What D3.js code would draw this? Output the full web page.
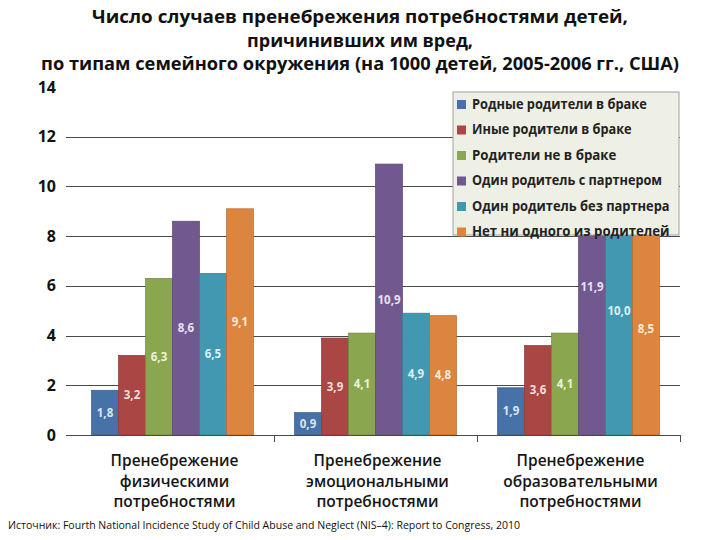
<!DOCTYPE html>
<html><head><meta charset="utf-8">
<script src="https://cdn.jsdelivr.net/npm/d3@7/dist/d3.min.js"></script>
<style>body{margin:0;background:#fff}svg{display:block}text{font-family:"Open Sans","Noto Sans",sans-serif}</style>
</head><body><div id="chart"></div>
<script>
const titleLines = ["Число случаев пренебрежения потребностями детей,", "причинивших им вред,", "по типам семейного окружения (на 1000 детей, 2005-2006 гг., США)"];
const categories = ["physical", "emotional", "educational"];
const categoryLabels = [["Пренебрежение","физическими","потребностями"],["Пренебрежение","эмоциональными","потребностями"],["Пренебрежение","образовательными","потребностями"]];
const seriesNames = ["Родные родители в браке","Иные родители в браке","Родители не в браке","Один родитель с партнером","Один родитель без партнера","Нет ни одного из родителей"];
const seriesColors = ["#4672a8","#aa4644","#8aa64f","#71598f","#4298b0","#db853e"];
const labelColors = ["#dce6f2","#f4dedd","#edf3d9","#e8e0f0","#dbf0f6","#fde9d9"];
const values = [
  [1.8, 3.2, 6.3, 8.6, 6.5, 9.1],
  [0.9, 3.9, 4.1, 10.9, 4.9, 4.8],
  [1.9, 3.6, 4.1, 11.9, 10.0, 8.5]
];
const yTicks = [0, 2, 4, 6, 8, 10, 12, 14];
const sourceText = "Источник: Fourth National Incidence Study of Child Abuse and Neglect (NIS–4): Report to Congress, 2010";

const W = 720, H = 540;
const svg = d3.select("#chart").append("svg").attr("width", W).attr("height", H);

const y = d3.scaleLinear().domain([0, 14]).range([435, 87]);
const x0 = d3.scaleBand().domain(categories).range([71, 680]).paddingInner(0).paddingOuter(0);
const x1 = d3.scaleBand().domain(d3.range(seriesNames.length)).range([0, x0.bandwidth()]).paddingInner(0).paddingOuter(0.76);

// title
const titleY = [23, 47, 70];
const titleW = [536, 226, 638];
svg.append("g").selectAll("text").data(titleLines).join("text")
  .attr("x", 360).attr("y", (d, i) => titleY[i]).attr("text-anchor", "middle")
  .attr("font-size", 18).attr("font-weight", "bold").attr("fill", "#111")
  .attr("textLength", (d, i) => titleW[i]).attr("lengthAdjust", "spacingAndGlyphs")
  .text(d => d);

// gridlines
svg.append("g").selectAll("line").data(yTicks.filter(t => t > 0 && t < 14)).join("line")
  .attr("x1", 66).attr("x2", 680).attr("y1", d => Math.round(y(d)) + 0.5).attr("y2", d => Math.round(y(d)) + 0.5)
  .attr("stroke", "#4a4a4a").attr("stroke-width", 1);

// y labels
svg.append("g").selectAll("text").data(yTicks).join("text")
  .attr("x", 56).attr("y", d => y(d)).attr("dy", "0.35em").attr("text-anchor", "end")
  .attr("font-size", 16).attr("font-weight", "bold").attr("fill", "#111")
  .text(d => d);

// bars
const groups = svg.append("g").selectAll("g").data(values).join("g")
  .attr("transform", (d, i) => `translate(${x0(categories[i])},0)`);
groups.selectAll("rect").data(d => d).join("rect")
  .attr("x", (d, j) => x1(j)).attr("width", x1.bandwidth())
  .attr("y", d => y(d)).attr("height", d => y(0) - y(d))
  .attr("fill", (d, j) => seriesColors[j])
  .attr("stroke", (d, j) => d3.color(seriesColors[j]).darker(0.6)).attr("stroke-width", 0.7);
groups.selectAll("text").data(d => d).join("text")
  .attr("x", (d, j) => x1(j) + x1.bandwidth() / 2).attr("y", d => (y(d) + y(0)) / 2)
  .attr("dy", "0.35em").attr("text-anchor", "middle")
  .attr("font-size", 11.5).attr("font-weight", "bold")
  .attr("fill", (d, j) => labelColors[j])
  .text(d => d.toFixed(1).replace(".", ","));

// x axis
svg.append("line").attr("x1", 66).attr("x2", 680).attr("y1", 435.5).attr("y2", 435.5).attr("stroke", "#4a4a4a");
svg.append("g").selectAll("line").data(categories.slice(1).concat(["end"])).join("line")
  .attr("x1", d => d === "end" ? 680.5 : Math.round(x0(d)) + 0.5).attr("x2", d => d === "end" ? 680.5 : Math.round(x0(d)) + 0.5)
  .attr("y1", 435).attr("y2", 442).attr("stroke", "#4a4a4a");

// category labels
categoryLabels.forEach((lines, i) => {
  svg.append("g").selectAll("text").data(lines).join("text")
    .attr("x", x0(categories[i]) + x0.bandwidth() / 2 + 2).attr("y", (d, k) => 466 + k * 20.5)
    .attr("text-anchor", "middle").attr("font-size", 15.5).attr("font-weight", 600).attr("fill", "#151515")
    .text(d => d);
});

// legend
const lg = svg.append("g").attr("transform", "translate(453,92)");
lg.append("rect").attr("width", 226).attr("height", 143).attr("fill", "#eef0e6").attr("stroke", "#a0a0a0").attr("stroke-width", 1);
const items = lg.selectAll("g").data(seriesNames).join("g")
  .attr("transform", (d, i) => `translate(0,${12 + i * 25.5})`);
items.append("rect").attr("x", 4).attr("y", -4).attr("width", 9).attr("height", 9).attr("fill", (d, i) => seriesColors[i]);
items.append("text").attr("x", 19).attr("y", 0).attr("dy", "0.35em")
  .attr("font-size", 13.5).attr("font-weight", "bold").attr("fill", "#222")
  .attr("textLength", d => d.length * 7.6).attr("lengthAdjust", "spacingAndGlyphs").text(d => d);

// source
svg.append("text").attr("x", 8).attr("y", 529).attr("font-size", 10).attr("fill", "#111")
  .attr("textLength", 512).attr("lengthAdjust", "spacingAndGlyphs").text(sourceText);
</script></body></html>
